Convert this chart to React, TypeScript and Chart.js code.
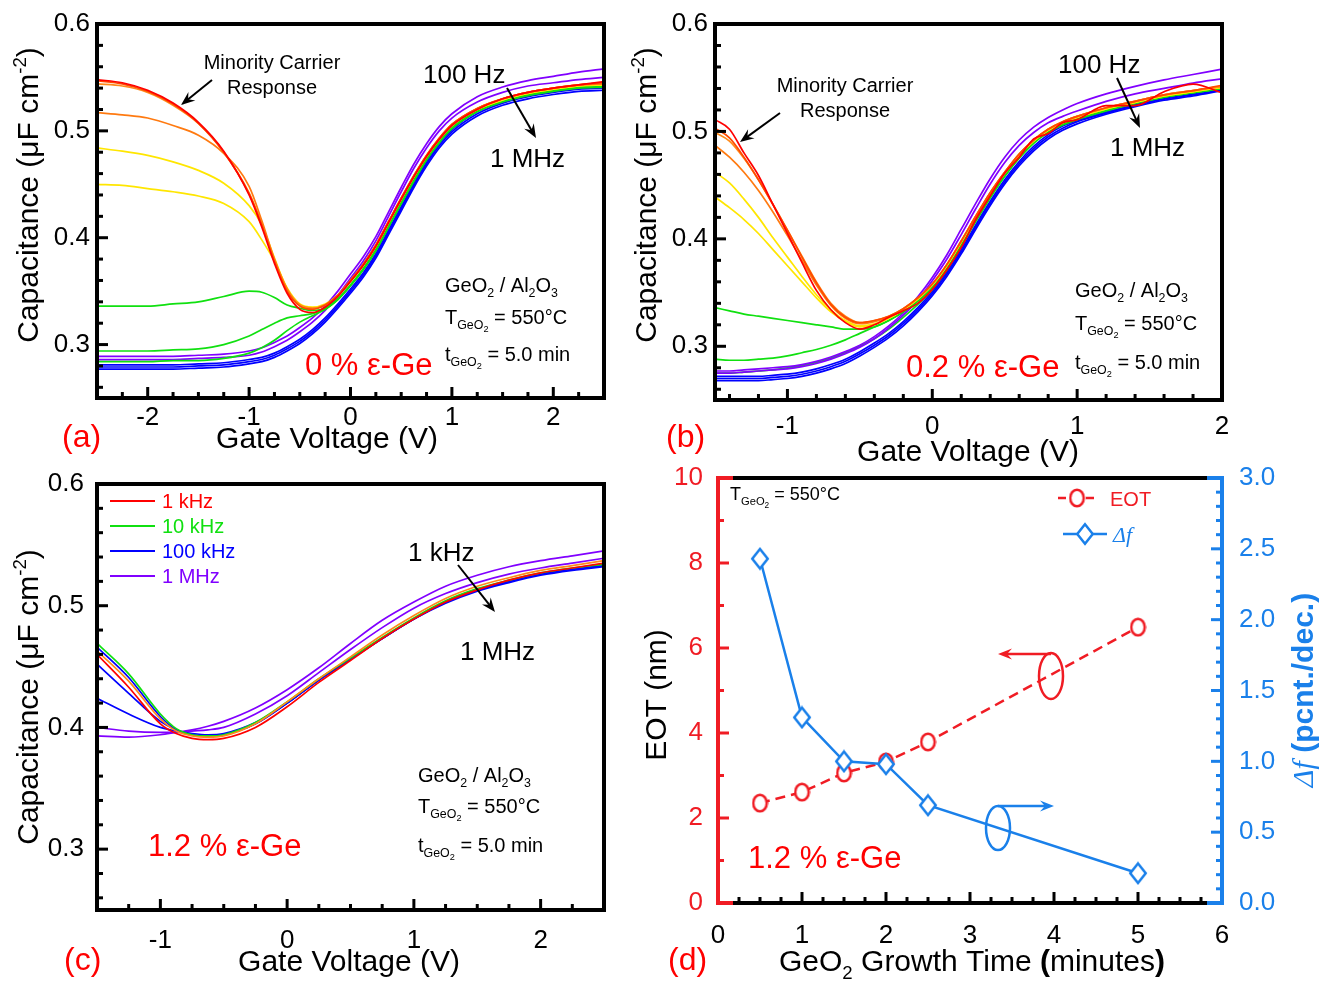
import React, { useEffect, useRef } from "react";
import { Chart, registerables } from "chart.js";

Chart.register(...registerables);

const PAGE_W = 1329;
const PAGE_H = 982;
const SANS = "Arial, 'Liberation Sans', Helvetica, sans-serif";
const SERIF = "'Times New Roman', 'Liberation Serif', serif";

// ================= DATA =================
// (a) 0 % eps-Ge : gate voltage (V) and capacitance (uF/cm2) for each frequency curve
const voltsA = [-2.5, -2.25, -2, -1.75, -1.5, -1.25, -1, -0.875, -0.75, -0.625, -0.5, -0.375, -0.25, -0.125, 0, 0.125, 0.25, 0.375, 0.5, 0.625, 0.75, 0.875, 1, 1.25, 1.5, 1.75, 2, 2.25, 2.5];
const capA01 = [0.548, 0.545, 0.538, 0.526, 0.508, 0.481, 0.440, 0.410, 0.376, 0.348, 0.333, 0.330, 0.335, 0.345, 0.359, 0.374, 0.392, 0.414, 0.436, 0.457, 0.476, 0.492, 0.505, 0.520, 0.530, 0.536, 0.540, 0.543, 0.546];
const capA02 = [0.547, 0.544, 0.537, 0.525, 0.507, 0.480, 0.441, 0.412, 0.378, 0.350, 0.336, 0.333, 0.337, 0.346, 0.360, 0.375, 0.393, 0.415, 0.437, 0.458, 0.477, 0.493, 0.506, 0.521, 0.530, 0.536, 0.540, 0.543, 0.545];
const capA03 = [0.544, 0.542, 0.536, 0.524, 0.507, 0.480, 0.442, 0.413, 0.379, 0.351, 0.337, 0.334, 0.337, 0.346, 0.360, 0.375, 0.393, 0.415, 0.437, 0.458, 0.477, 0.493, 0.506, 0.521, 0.530, 0.536, 0.540, 0.543, 0.545];
const capA04 = [0.517, 0.515, 0.512, 0.505, 0.496, 0.479, 0.448, 0.416, 0.380, 0.352, 0.337, 0.334, 0.337, 0.346, 0.360, 0.375, 0.393, 0.415, 0.437, 0.458, 0.477, 0.493, 0.506, 0.521, 0.530, 0.536, 0.540, 0.543, 0.544];
const capA05 = [0.484, 0.481, 0.477, 0.471, 0.463, 0.451, 0.430, 0.412, 0.381, 0.352, 0.337, 0.334, 0.337, 0.346, 0.359, 0.374, 0.392, 0.414, 0.436, 0.457, 0.476, 0.492, 0.505, 0.520, 0.529, 0.535, 0.539, 0.542, 0.544];
const capA06 = [0.450, 0.449, 0.446, 0.443, 0.439, 0.432, 0.415, 0.398, 0.378, 0.353, 0.338, 0.335, 0.338, 0.346, 0.359, 0.374, 0.392, 0.414, 0.436, 0.457, 0.476, 0.492, 0.505, 0.520, 0.529, 0.535, 0.539, 0.542, 0.543];
const capA07 = [0.336, 0.336, 0.336, 0.338, 0.340, 0.345, 0.350, 0.349, 0.344, 0.337, 0.334, 0.332, 0.334, 0.343, 0.356, 0.371, 0.389, 0.411, 0.433, 0.454, 0.474, 0.490, 0.503, 0.519, 0.528, 0.534, 0.538, 0.541, 0.543];
const capA08 = [0.294, 0.294, 0.294, 0.295, 0.296, 0.300, 0.308, 0.314, 0.320, 0.325, 0.327, 0.329, 0.333, 0.342, 0.355, 0.370, 0.388, 0.410, 0.432, 0.453, 0.473, 0.489, 0.502, 0.518, 0.528, 0.534, 0.538, 0.541, 0.542];
const capA09 = [0.284, 0.284, 0.284, 0.285, 0.285, 0.287, 0.292, 0.297, 0.304, 0.313, 0.321, 0.327, 0.333, 0.342, 0.355, 0.370, 0.388, 0.410, 0.432, 0.453, 0.473, 0.489, 0.502, 0.518, 0.527, 0.533, 0.537, 0.540, 0.541];
const capA10 = [0.289, 0.289, 0.289, 0.289, 0.290, 0.291, 0.294, 0.297, 0.302, 0.308, 0.316, 0.325, 0.336, 0.350, 0.366, 0.382, 0.401, 0.424, 0.447, 0.469, 0.488, 0.504, 0.516, 0.532, 0.541, 0.547, 0.551, 0.555, 0.558];
const capA11 = [0.286, 0.286, 0.286, 0.286, 0.287, 0.288, 0.290, 0.293, 0.298, 0.304, 0.312, 0.321, 0.332, 0.346, 0.362, 0.378, 0.397, 0.420, 0.443, 0.465, 0.484, 0.500, 0.512, 0.527, 0.536, 0.542, 0.545, 0.548, 0.550];
const capA12 = [0.281, 0.281, 0.281, 0.281, 0.282, 0.283, 0.286, 0.288, 0.292, 0.298, 0.305, 0.314, 0.325, 0.338, 0.352, 0.367, 0.385, 0.407, 0.429, 0.451, 0.471, 0.488, 0.501, 0.518, 0.528, 0.534, 0.537, 0.540, 0.542];
const capA13 = [0.279, 0.279, 0.279, 0.279, 0.280, 0.281, 0.284, 0.286, 0.290, 0.296, 0.303, 0.312, 0.323, 0.336, 0.350, 0.365, 0.383, 0.405, 0.427, 0.449, 0.469, 0.486, 0.499, 0.516, 0.526, 0.532, 0.536, 0.539, 0.540];
const capA14 = [0.277, 0.277, 0.277, 0.277, 0.278, 0.279, 0.282, 0.284, 0.288, 0.294, 0.301, 0.310, 0.321, 0.334, 0.348, 0.363, 0.381, 0.403, 0.425, 0.447, 0.467, 0.484, 0.497, 0.514, 0.524, 0.530, 0.534, 0.537, 0.538];
const curvesA = [capA01, capA02, capA03, capA04, capA05, capA06, capA07, capA08, capA09, capA10, capA11, capA12, capA13, capA14];
const colorsA = ["#ff0000", "#ff4a00", "#ff8a1a", "#ff7a10", "#ffe600", "#ffe600", "#10e010", "#10e010", "#10e010", "#8000ff", "#8000ff", "#0000ff", "#0000ff", "#0000ff"];

// (b) 0.2 % eps-Ge
const voltsB = [-1.5, -1.4, -1.3, -1.2, -1.1, -1.0, -0.9, -0.8, -0.7, -0.6, -0.5, -0.4, -0.3, -0.2, -0.1, 0, 0.1, 0.2, 0.3, 0.4, 0.5, 0.6, 0.7, 0.8, 0.9, 1.0, 1.2, 1.4, 1.6, 1.8, 2.0];
const capB01 = [0.511, 0.502, 0.480, 0.459, 0.432, 0.405, 0.378, 0.352, 0.334, 0.322, 0.316, 0.320, 0.327, 0.333, 0.340, 0.353, 0.371, 0.392, 0.418, 0.440, 0.461, 0.476, 0.493, 0.498, 0.508, 0.511, 0.524, 0.524, 0.537, 0.544, 0.536];
const capB02 = [0.503, 0.494, 0.476, 0.455, 0.432, 0.408, 0.383, 0.359, 0.339, 0.327, 0.322, 0.324, 0.328, 0.335, 0.345, 0.358, 0.376, 0.398, 0.421, 0.443, 0.462, 0.479, 0.492, 0.502, 0.509, 0.514, 0.522, 0.528, 0.534, 0.538, 0.543];
const capB03 = [0.499, 0.491, 0.475, 0.455, 0.432, 0.408, 0.384, 0.360, 0.340, 0.328, 0.322, 0.324, 0.328, 0.335, 0.345, 0.358, 0.376, 0.398, 0.421, 0.443, 0.462, 0.479, 0.492, 0.502, 0.509, 0.514, 0.522, 0.528, 0.534, 0.538, 0.542];
const capB04 = [0.487, 0.476, 0.462, 0.445, 0.425, 0.403, 0.380, 0.357, 0.338, 0.326, 0.321, 0.323, 0.327, 0.335, 0.345, 0.358, 0.376, 0.398, 0.421, 0.443, 0.462, 0.479, 0.492, 0.502, 0.509, 0.514, 0.522, 0.528, 0.534, 0.538, 0.542];
const capB05 = [0.462, 0.452, 0.437, 0.420, 0.401, 0.383, 0.365, 0.348, 0.334, 0.324, 0.319, 0.321, 0.326, 0.334, 0.344, 0.357, 0.375, 0.397, 0.420, 0.442, 0.461, 0.478, 0.491, 0.501, 0.508, 0.513, 0.521, 0.527, 0.533, 0.537, 0.541];
const capB06 = [0.439, 0.429, 0.418, 0.405, 0.390, 0.375, 0.360, 0.345, 0.332, 0.323, 0.318, 0.320, 0.326, 0.334, 0.344, 0.357, 0.375, 0.397, 0.420, 0.442, 0.461, 0.478, 0.491, 0.501, 0.508, 0.513, 0.521, 0.527, 0.533, 0.537, 0.541];
const capB07 = [0.336, 0.333, 0.330, 0.328, 0.326, 0.324, 0.322, 0.320, 0.318, 0.316, 0.316, 0.318, 0.324, 0.332, 0.342, 0.355, 0.373, 0.395, 0.418, 0.440, 0.459, 0.476, 0.490, 0.500, 0.507, 0.512, 0.520, 0.527, 0.532, 0.536, 0.540];
const capB08 = [0.288, 0.287, 0.287, 0.288, 0.289, 0.291, 0.294, 0.297, 0.301, 0.306, 0.312, 0.318, 0.324, 0.332, 0.342, 0.355, 0.373, 0.395, 0.418, 0.440, 0.459, 0.476, 0.490, 0.500, 0.507, 0.512, 0.520, 0.526, 0.532, 0.536, 0.540];
const capB09 = [0.277, 0.277, 0.278, 0.279, 0.280, 0.281, 0.283, 0.286, 0.290, 0.295, 0.301, 0.309, 0.319, 0.331, 0.346, 0.364, 0.385, 0.409, 0.433, 0.456, 0.476, 0.492, 0.504, 0.513, 0.520, 0.526, 0.535, 0.542, 0.548, 0.553, 0.558];
const capB10 = [0.275, 0.275, 0.276, 0.277, 0.278, 0.279, 0.281, 0.284, 0.288, 0.293, 0.299, 0.307, 0.317, 0.329, 0.343, 0.361, 0.381, 0.404, 0.428, 0.451, 0.471, 0.487, 0.499, 0.508, 0.514, 0.519, 0.528, 0.535, 0.540, 0.545, 0.549];
const capB11 = [0.275, 0.275, 0.276, 0.277, 0.278, 0.280, 0.282, 0.285, 0.289, 0.294, 0.300, 0.307, 0.316, 0.327, 0.339, 0.353, 0.371, 0.393, 0.416, 0.438, 0.458, 0.475, 0.489, 0.499, 0.506, 0.511, 0.519, 0.526, 0.532, 0.536, 0.540];
const capB12 = [0.272, 0.272, 0.272, 0.272, 0.273, 0.274, 0.276, 0.279, 0.283, 0.288, 0.295, 0.303, 0.312, 0.323, 0.336, 0.351, 0.369, 0.390, 0.413, 0.435, 0.455, 0.472, 0.486, 0.497, 0.505, 0.510, 0.518, 0.525, 0.531, 0.535, 0.540];
const capB13 = [0.270, 0.270, 0.270, 0.270, 0.271, 0.272, 0.274, 0.277, 0.281, 0.286, 0.293, 0.301, 0.310, 0.321, 0.334, 0.349, 0.367, 0.388, 0.411, 0.433, 0.453, 0.470, 0.484, 0.495, 0.503, 0.509, 0.517, 0.524, 0.530, 0.534, 0.539];
const capB14 = [0.268, 0.268, 0.268, 0.268, 0.269, 0.270, 0.272, 0.275, 0.279, 0.284, 0.291, 0.299, 0.308, 0.319, 0.332, 0.347, 0.365, 0.386, 0.409, 0.431, 0.451, 0.468, 0.482, 0.493, 0.501, 0.507, 0.516, 0.523, 0.529, 0.533, 0.538];
const curvesB = [capB01, capB02, capB03, capB04, capB05, capB06, capB07, capB08, capB09, capB10, capB11, capB12, capB13, capB14];
const colorsB = ["#ff0000", "#ff4a00", "#ff8a1a", "#ff7a10", "#ffe600", "#ffe600", "#10e010", "#10e010", "#8000ff", "#8000ff", "#10e010", "#0000ff", "#0000ff", "#0000ff"];

// (c) 1.2 % eps-Ge
const voltsC = [-1.5, -1.25, -1, -0.875, -0.75, -0.625, -0.5, -0.25, 0, 0.25, 0.5, 0.75, 1, 1.25, 1.5, 1.75, 2, 2.25, 2.5];
const capC1kHz = [0.460, 0.433, 0.403, 0.395, 0.391, 0.390, 0.391, 0.400, 0.417, 0.437, 0.455, 0.473, 0.489, 0.503, 0.513, 0.521, 0.527, 0.531, 0.535];
const capCorange = [0.463, 0.438, 0.407, 0.397, 0.393, 0.392, 0.393, 0.403, 0.421, 0.440, 0.458, 0.476, 0.492, 0.506, 0.516, 0.523, 0.529, 0.533, 0.537];
const capC10kHz = [0.469, 0.444, 0.411, 0.399, 0.394, 0.393, 0.394, 0.404, 0.421, 0.440, 0.457, 0.474, 0.490, 0.504, 0.514, 0.521, 0.527, 0.531, 0.534];
const capCblue1 = [0.466, 0.441, 0.409, 0.398, 0.394, 0.393, 0.394, 0.403, 0.420, 0.439, 0.456, 0.473, 0.489, 0.503, 0.513, 0.520, 0.526, 0.530, 0.533];
const capCblue2 = [0.452, 0.428, 0.405, 0.398, 0.394, 0.393, 0.394, 0.403, 0.420, 0.439, 0.456, 0.473, 0.489, 0.503, 0.513, 0.520, 0.526, 0.530, 0.533];
const capC100kHz = [0.424, 0.411, 0.400, 0.397, 0.395, 0.394, 0.395, 0.404, 0.420, 0.439, 0.456, 0.473, 0.489, 0.502, 0.512, 0.519, 0.525, 0.529, 0.532];
const capCpurple = [0.400, 0.397, 0.396, 0.396, 0.397, 0.398, 0.400, 0.411, 0.426, 0.445, 0.464, 0.482, 0.498, 0.510, 0.519, 0.526, 0.531, 0.535, 0.539];
const capC1MHz = [0.393, 0.392, 0.394, 0.396, 0.398, 0.401, 0.405, 0.416, 0.431, 0.449, 0.469, 0.488, 0.503, 0.516, 0.525, 0.532, 0.537, 0.541, 0.545];
const curvesC = [capC1kHz, capCorange, capC10kHz, capCblue1, capCblue2, capC100kHz, capCpurple, capC1MHz];
const colorsC = ["#ff0000", "#ff8a1a", "#10e010", "#0000ff", "#0000ff", "#0000ff", "#8000ff", "#8000ff"];
const legendLabelsC = ["1 kHz", "10 kHz", "100 kHz", "1 MHz"];
const legendColorsC = ["#ff0000", "#10e010", "#0000ff", "#8000ff"];

// (d) EOT and delta-f vs GeO2 growth time
const growthTime = [0.5, 1, 1.5, 2, 2.5, 5];
const eotNm = [2.35, 2.61, 3.06, 3.32, 3.79, 6.49];
const deltaF = [2.43, 1.31, 1.0, 0.98, 0.69, 0.21];

// tick labels
const yTicksCV = [0.3, 0.4, 0.5, 0.6];
const xTicksA = [-2, -1, 0, 1, 2];
const xTicksB = [-1, 0, 1, 2];
const xTicksC = [-1, 0, 1, 2];
const xTicksD = [0, 1, 2, 3, 4, 5, 6];
const yTicksEOT = [0, 2, 4, 6, 8, 10];
const yTicksDF = [0, 0.5, 1.0, 1.5, 2.0, 2.5, 3.0];

// ================= STYLE HELPERS =================
const RED_D = "#f01c24";
const BLUE_D = "#1a80ea";

type Run = { t: string; sub?: number; sup?: boolean; bold?: boolean; italic?: boolean; serif?: boolean; color?: string };
type TextSpec = { x: number; y: number; size: number; color?: string; runs: Run[]; align?: "left" | "center" | "right"; rotate?: boolean };
type ArrowSpec = { x1: number; y1: number; x2: number; y2: number; color: string; width: number };
type EllSpec = { cx: number; cy: number; rx: number; ry: number; color: string; width: number };
type TickSpec = { axis: string; side: "left" | "right" | "bottom"; major: number[]; minor: number[]; color: string };
type Deco = {
  ticks: TickSpec[];
  frame: (ctx: CanvasRenderingContext2D, a: any) => void;
  texts: TextSpec[];
  arrows: ArrowSpec[];
  ellipses?: EllSpec[];
  extra?: (ctx: CanvasRenderingContext2D) => void;
};

function steps(a: number, b: number, step: number, skipEvery: number): number[] {
  const out: number[] = [];
  const n = Math.round((b - a) / step);
  for (let i = 0; i <= n; i++) {
    const v = +(a + i * step).toFixed(6);
    const r = v / skipEvery;
    if (Math.abs(r - Math.round(r)) < 1e-6) continue;
    out.push(v);
  }
  return out;
}

function drawRuns(ctx: CanvasRenderingContext2D, s: TextSpec) {
  ctx.save();
  ctx.translate(s.x, s.y);
  if (s.rotate) ctx.rotate(-Math.PI / 2);
  const parts = s.runs.map((r) => {
    const lvl = r.sub || 0;
    const fs = r.sup ? s.size * 0.62 : lvl === 1 ? s.size * 0.62 : lvl === 2 ? s.size * 0.46 : s.size;
    const font = `${r.italic ? "italic " : ""}${r.bold ? "bold " : ""}${fs.toFixed(1)}px ${r.serif ? SERIF : SANS}`;
    ctx.font = font;
    const w = ctx.measureText(r.t).width;
    const dy = r.sup ? -s.size * 0.4 : lvl === 1 ? s.size * 0.26 : lvl === 2 ? s.size * 0.42 : 0;
    return { font, w, dy, t: r.t, color: r.color };
  });
  const total = parts.reduce((acc, p) => acc + p.w, 0);
  let cx = s.align === "center" ? -total / 2 : s.align === "right" ? -total : 0;
  ctx.textAlign = "left";
  ctx.textBaseline = "alphabetic";
  for (const p of parts) {
    ctx.font = p.font;
    ctx.fillStyle = p.color || s.color || "#000";
    ctx.fillText(p.t, cx, p.dy);
    cx += p.w;
  }
  ctx.restore();
}

function drawArrow(ctx: CanvasRenderingContext2D, a: ArrowSpec) {
  const ang = Math.atan2(a.y2 - a.y1, a.x2 - a.x1);
  const hl = 14;
  const hw = 5.5;
  ctx.save();
  ctx.strokeStyle = a.color;
  ctx.fillStyle = a.color;
  ctx.lineWidth = a.width;
  ctx.beginPath();
  ctx.moveTo(a.x1, a.y1);
  ctx.lineTo(a.x2 - Math.cos(ang) * hl * 0.6, a.y2 - Math.sin(ang) * hl * 0.6);
  ctx.stroke();
  ctx.translate(a.x2, a.y2);
  ctx.rotate(ang);
  ctx.beginPath();
  ctx.moveTo(0, 0);
  ctx.lineTo(-hl, -hw);
  ctx.lineTo(-hl * 0.65, 0);
  ctx.lineTo(-hl, hw);
  ctx.closePath();
  ctx.fill();
  ctx.restore();
}

function makePlugin(deco: Deco) {
  return {
    id: "deco",
    afterDatasetsDraw(chart: any) {
      const ctx: CanvasRenderingContext2D = chart.ctx;
      const a = chart.chartArea;
      ctx.save();
      for (const t of deco.ticks) {
        const sc = chart.scales[t.axis];
        ctx.strokeStyle = t.color;
        ctx.lineWidth = 3;
        const draw = (v: number, len: number) => {
          const p = sc.getPixelForValue(v);
          ctx.beginPath();
          if (t.side === "bottom") {
            ctx.moveTo(p, a.bottom);
            ctx.lineTo(p, a.bottom - len);
          } else if (t.side === "left") {
            ctx.moveTo(a.left, p);
            ctx.lineTo(a.left + len, p);
          } else {
            ctx.moveTo(a.right, p);
            ctx.lineTo(a.right - len, p);
          }
          ctx.stroke();
        };
        t.major.forEach((v) => draw(v, 11));
        t.minor.forEach((v) => draw(v, 6));
      }
      deco.frame(ctx, a);
      (deco.ellipses || []).forEach((e) => {
        ctx.beginPath();
        ctx.strokeStyle = e.color;
        ctx.lineWidth = e.width;
        ctx.ellipse(e.cx, e.cy, e.rx, e.ry, 0, 0, Math.PI * 2);
        ctx.stroke();
      });
      deco.arrows.forEach((ar) => drawArrow(ctx, ar));
      deco.texts.forEach((tx) => drawRuns(ctx, tx));
      if (deco.extra) deco.extra(ctx);
      ctx.restore();
    },
  };
}

function blackFrame(ctx: CanvasRenderingContext2D, a: any) {
  ctx.strokeStyle = "#000";
  ctx.lineWidth = 4;
  ctx.strokeRect(a.left, a.top, a.right - a.left, a.bottom - a.top);
}

function tickFont() {
  return { family: SANS, size: 26 };
}

function xScale(min: number, max: number, ticks: number[], pad: number) {
  return {
    type: "linear",
    min,
    max,
    afterBuildTicks: (s: any) => {
      s.ticks = ticks.map((v) => ({ value: v }));
    },
    afterFit: (s: any) => {
      s.height = 50;
      s.paddingLeft = 0;
      s.paddingRight = 0;
    },
    grid: { display: false, drawTicks: false },
    border: { display: false },
    ticks: { font: tickFont(), color: "#000", padding: pad, maxRotation: 0, minRotation: 0, autoSkip: false, callback: (v: any) => String(v) },
  };
}

function yScale(min: number, max: number, ticks: number[], pad: number, digits: number, color: string, position: string) {
  return {
    type: "linear",
    position,
    min,
    max,
    afterBuildTicks: (s: any) => {
      s.ticks = ticks.map((v) => ({ value: v }));
    },
    afterFit: (s: any) => {
      s.width = 70;
      s.paddingTop = 0;
      s.paddingBottom = 0;
    },
    grid: { display: false, drawTicks: false },
    border: { display: false },
    ticks: { font: tickFont(), color, padding: pad, autoSkip: false, callback: (v: any) => Number(v).toFixed(digits) },
  };
}

function lineSets(volts: number[], curves: number[][], colors: string[]) {
  return curves.map((c, k) => ({
    data: volts.map((v, i) => ({ x: v, y: c[i] })),
    borderColor: colors[k],
    borderWidth: 1.7,
    pointRadius: 0,
    fill: false,
    cubicInterpolationMode: "monotone",
  }));
}

function baseOptions(padding: any, scales: any) {
  return {
    responsive: false,
    animation: false,
    devicePixelRatio: 1,
    events: [],
    layout: { padding },
    plugins: { legend: { display: false }, tooltip: { enabled: false } },
    scales,
  };
}

function commonCVTexts(x: number, yBase: number, spacing: [number, number]): TextSpec[] {
  return [
    { x, y: yBase, size: 20, runs: [{ t: "GeO" }, { t: "2", sub: 1 }, { t: " / Al" }, { t: "2", sub: 1 }, { t: "O" }, { t: "3", sub: 1 }] },
    { x, y: yBase + spacing[0], size: 20, runs: [{ t: "T" }, { t: "GeO", sub: 1 }, { t: "2", sub: 2 }, { t: " = 550°C" }] },
    { x, y: yBase + spacing[1], size: 20, runs: [{ t: "t" }, { t: "GeO", sub: 1 }, { t: "2", sub: 2 }, { t: " = 5.0 min" }] },
  ];
}

const capTitle: Run[] = [{ t: "Capacitance (" }, { t: "μ" }, { t: "F cm" }, { t: "-2", sup: true }, { t: ")" }];

function ellipseMarker(w: number, h: number, color: string, lw: number) {
  const c = document.createElement("canvas");
  c.width = w;
  c.height = h;
  const g = c.getContext("2d")!;
  g.beginPath();
  g.ellipse(w / 2, h / 2, w / 2 - lw / 2 - 0.5, h / 2 - lw / 2 - 0.5, 0, 0, Math.PI * 2);
  g.fillStyle = "#fff";
  g.fill();
  g.strokeStyle = color;
  g.lineWidth = lw;
  g.stroke();
  return c;
}

function diamondMarker(w: number, h: number, color: string, lw: number) {
  const c = document.createElement("canvas");
  c.width = w;
  c.height = h;
  const g = c.getContext("2d")!;
  const m = lw / 2 + 1;
  g.beginPath();
  g.moveTo(w / 2, m);
  g.lineTo(w - m, h / 2);
  g.lineTo(w / 2, h - m);
  g.lineTo(m, h / 2);
  g.closePath();
  g.fillStyle = "#fff";
  g.fill();
  g.strokeStyle = color;
  g.lineWidth = lw;
  g.lineJoin = "miter";
  g.stroke();
  return c;
}

// ================= CHART BUILDERS =================
function buildA(canvas: HTMLCanvasElement) {
  const deco: Deco = {
    ticks: [
      { axis: "x", side: "bottom", major: [-2, -1, 0, 1, 2], minor: steps(-2.25, 2.25, 0.25, 1), color: "#000" },
      { axis: "y", side: "left", major: [0.3, 0.4, 0.5], minor: steps(0.26, 0.58, 0.02, 0.1), color: "#000" },
    ],
    frame: blackFrame,
    arrows: [
      { x1: 212, y1: 80, x2: 181, y2: 105, color: "#000", width: 2 },
      { x1: 507, y1: 88, x2: 536, y2: 138, color: "#000", width: 2 },
    ],
    texts: [
      { x: 272, y: 69, size: 20, align: "center", runs: [{ t: "Minority Carrier" }] },
      { x: 272, y: 94, size: 20, align: "center", runs: [{ t: "Response" }] },
      { x: 423, y: 83, size: 26, runs: [{ t: "100 Hz" }] },
      { x: 490, y: 167, size: 26, runs: [{ t: "1 MHz" }] },
      ...commonCVTexts(445, 292, [32, 69]),
      { x: 305, y: 375, size: 31, color: "#ff0000", runs: [{ t: "0 % ε-Ge" }] },
      { x: 327, y: 448, size: 30, align: "center", runs: [{ t: "Gate Voltage (V)" }] },
      { x: 38, y: 195, size: 30, align: "center", rotate: true, runs: capTitle },
      { x: 62, y: 447, size: 32, color: "#ff0000", runs: [{ t: "(a)" }] },
    ],
  };
  return new Chart(canvas, {
    type: "line",
    data: { datasets: lineSets(voltsA, curvesA, colorsA) as any },
    options: baseOptions({ left: 27, top: 24, right: 725, bottom: 534 }, {
      x: xScale(-2.5, 2.5, xTicksA, 4),
      y: yScale(0.25, 0.6, yTicksCV, 7, 1, "#000", "left"),
    }) as any,
    plugins: [makePlugin(deco)],
  });
}

function buildB(canvas: HTMLCanvasElement) {
  const deco: Deco = {
    ticks: [
      { axis: "x", side: "bottom", major: [-1, 0, 1], minor: steps(-1.4, 1.8, 0.2, 1), color: "#000" },
      { axis: "y", side: "left", major: [0.3, 0.4, 0.5], minor: steps(0.26, 0.58, 0.02, 0.1), color: "#000" },
    ],
    frame: blackFrame,
    arrows: [
      { x1: 780, y1: 113, x2: 740, y2: 142, color: "#000", width: 2 },
      { x1: 1117, y1: 78, x2: 1140, y2: 128, color: "#000", width: 2 },
    ],
    texts: [
      { x: 845, y: 92, size: 20, align: "center", runs: [{ t: "Minority Carrier" }] },
      { x: 845, y: 117, size: 20, align: "center", runs: [{ t: "Response" }] },
      { x: 1058, y: 73, size: 26, runs: [{ t: "100 Hz" }] },
      { x: 1110, y: 156, size: 26, runs: [{ t: "1 MHz" }] },
      ...commonCVTexts(1075, 297, [33, 72]),
      { x: 906, y: 377, size: 31, color: "#ff0000", runs: [{ t: "0.2 % ε-Ge" }] },
      { x: 968, y: 461, size: 30, align: "center", runs: [{ t: "Gate Voltage (V)" }] },
      { x: 656, y: 195, size: 30, align: "center", rotate: true, runs: capTitle },
      { x: 666, y: 447, size: 32, color: "#ff0000", runs: [{ t: "(b)" }] },
    ],
  };
  return new Chart(canvas, {
    type: "line",
    data: { datasets: lineSets(voltsB, curvesB, colorsB) as any },
    options: baseOptions({ left: 645, top: 24, right: 107, bottom: 532 }, {
      x: xScale(-1.5, 2.0, xTicksB, 11),
      y: yScale(0.25, 0.6, yTicksCV, 7, 1, "#000", "left"),
    }) as any,
    plugins: [makePlugin(deco)],
  });
}

function buildC(canvas: HTMLCanvasElement) {
  const legendY = [501, 526, 551, 576];
  const deco: Deco = {
    ticks: [
      { axis: "x", side: "bottom", major: [-1, 0, 1, 2], minor: steps(-1.25, 2.25, 0.25, 1), color: "#000" },
      { axis: "y", side: "left", major: [0.3, 0.4, 0.5], minor: steps(0.26, 0.58, 0.02, 0.1), color: "#000" },
    ],
    frame: blackFrame,
    arrows: [{ x1: 458, y1: 565, x2: 495, y2: 612, color: "#000", width: 2 }],
    texts: [
      ...legendLabelsC.map((l, i) => ({ x: 162, y: legendY[i] + 7, size: 20, color: legendColorsC[i], runs: [{ t: l }] } as TextSpec)),
      { x: 408, y: 561, size: 26, runs: [{ t: "1 kHz" }] },
      { x: 460, y: 660, size: 26, runs: [{ t: "1 MHz" }] },
      ...commonCVTexts(418, 782, [31, 70]),
      { x: 148, y: 856, size: 31, color: "#ff0000", runs: [{ t: "1.2 % ε-Ge" }] },
      { x: 349, y: 971, size: 30, align: "center", runs: [{ t: "Gate Voltage (V)" }] },
      { x: 38, y: 697, size: 30, align: "center", rotate: true, runs: capTitle },
      { x: 64, y: 970, size: 32, color: "#ff0000", runs: [{ t: "(c)" }] },
    ],
    extra: (ctx) => {
      legendColorsC.forEach((c, i) => {
        ctx.beginPath();
        ctx.strokeStyle = c;
        ctx.lineWidth = 2;
        ctx.moveTo(110, legendY[i]);
        ctx.lineTo(155, legendY[i]);
        ctx.stroke();
      });
    },
  };
  return new Chart(canvas, {
    type: "line",
    data: { datasets: lineSets(voltsC, curvesC, colorsC) as any },
    options: baseOptions({ left: 27, top: 484, right: 725, bottom: 22 }, {
      x: xScale(-1.5, 2.5, xTicksC, 15),
      y: yScale(0.25, 0.6, yTicksCV, 13, 1, "#000", "left"),
    }) as any,
    plugins: [makePlugin(deco)],
  });
}

function buildD(canvas: HTMLCanvasElement) {
  const circ = ellipseMarker(17, 20, RED_D, 2.5);
  const diam = diamondMarker(20, 24, BLUE_D, 2.5);
  const frameD = (ctx: CanvasRenderingContext2D, a: any) => {
    ctx.lineWidth = 4;
    const seg = (x1: number, y1: number, x2: number, y2: number, c: string) => {
      ctx.beginPath();
      ctx.strokeStyle = c;
      ctx.moveTo(x1, y1);
      ctx.lineTo(x2, y2);
      ctx.stroke();
    };
    seg(a.left, a.top, a.right, a.top, "#000");
    seg(a.left, a.bottom, a.right, a.bottom, "#000");
    seg(a.left - 2, a.top, a.left + 15, a.top, RED_D);
    seg(a.left - 2, a.bottom, a.left + 15, a.bottom, RED_D);
    seg(a.right - 15, a.top, a.right + 2, a.top, BLUE_D);
    seg(a.right - 15, a.bottom, a.right + 2, a.bottom, BLUE_D);
    seg(a.left, a.top - 2, a.left, a.bottom + 2, RED_D);
    seg(a.right, a.top - 2, a.right, a.bottom + 2, BLUE_D);
  };
  const deco: Deco = {
    ticks: [
      { axis: "x", side: "bottom", major: [1, 2, 3, 4, 5], minor: steps(0.25, 5.75, 0.25, 1), color: "#000" },
      { axis: "y", side: "left", major: [2, 4, 6, 8], minor: [1, 3, 5, 7, 9], color: RED_D },
      { axis: "y2", side: "right", major: [0.5, 1.0, 1.5, 2.0, 2.5], minor: steps(0.1, 2.9, 0.1, 0.5), color: BLUE_D },
    ],
    frame: frameD,
    ellipses: [
      { cx: 1051, cy: 676, rx: 12, ry: 23, color: RED_D, width: 2.5 },
      { cx: 998, cy: 828, rx: 12, ry: 22, color: BLUE_D, width: 2.5 },
    ],
    arrows: [
      { x1: 1051, y1: 654, x2: 998, y2: 654, color: RED_D, width: 2.5 },
      { x1: 998, y1: 806, x2: 1054, y2: 806, color: BLUE_D, width: 2.5 },
    ],
    texts: [
      { x: 730, y: 500, size: 18, runs: [{ t: "T" }, { t: "GeO", sub: 1 }, { t: "2", sub: 2 }, { t: " = 550°C" }] },
      { x: 1110, y: 506, size: 20, color: RED_D, runs: [{ t: "EOT" }] },
      { x: 1113, y: 542, size: 22, color: BLUE_D, runs: [{ t: "Δf", italic: true, serif: true }] },
      { x: 748, y: 868, size: 31, color: "#ff0000", runs: [{ t: "1.2 % ε-Ge" }] },
      { x: 972, y: 971, size: 30, align: "center", runs: [{ t: "GeO" }, { t: "2", sub: 1 }, { t: " Growth Time " }, { t: "(", bold: true }, { t: "minutes" }, { t: ")", bold: true }] },
      { x: 666, y: 695, size: 30, align: "center", rotate: true, runs: [{ t: "EOT (nm)" }] },
      { x: 1313, y: 690, size: 30, align: "center", rotate: true, color: BLUE_D, runs: [{ t: "Δf", italic: true, serif: true }, { t: " (pcnt./dec.)", bold: true }] },
      { x: 668, y: 970, size: 32, color: "#ff0000", runs: [{ t: "(d)" }] },
    ],
    extra: (ctx) => {
      ctx.save();
      ctx.strokeStyle = RED_D;
      ctx.lineWidth = 2.5;
      ctx.setLineDash([8, 6]);
      ctx.beginPath();
      ctx.moveTo(1058, 498);
      ctx.lineTo(1096, 498);
      ctx.stroke();
      ctx.setLineDash([]);
      ctx.drawImage(circ, 1077 - circ.width / 2, 498 - circ.height / 2);
      ctx.strokeStyle = BLUE_D;
      ctx.beginPath();
      ctx.moveTo(1063, 534);
      ctx.lineTo(1107, 534);
      ctx.stroke();
      ctx.drawImage(diam, 1085 - diam.width / 2, 534 - diam.height / 2);
      ctx.restore();
    },
  };
  return new Chart(canvas, {
    type: "line",
    data: {
      datasets: [
        {
          data: growthTime.map((t, i) => ({ x: t, y: deltaF[i] })),
          yAxisID: "y2",
          borderColor: BLUE_D,
          borderWidth: 2.5,
          pointStyle: diam as any,
          pointRadius: 10,
          tension: 0,
        },
        {
          data: growthTime.map((t, i) => ({ x: t, y: eotNm[i] })),
          yAxisID: "y",
          borderColor: RED_D,
          borderWidth: 2.5,
          borderDash: [10, 6],
          pointStyle: circ as any,
          pointRadius: 9,
          tension: 0,
        },
      ] as any,
    },
    options: baseOptions({ left: 648, top: 478, right: 37, bottom: 29 }, {
      x: xScale(0, 6, xTicksD, 17),
      y: yScale(0, 10, yTicksEOT, 15, 0, RED_D, "left"),
      y2: yScale(0, 3, yTicksDF, 17, 1, BLUE_D, "right"),
    }) as any,
    plugins: [makePlugin(deco)],
  });
}

export default function App() {
  const r0 = useRef<HTMLCanvasElement>(null);
  const r1 = useRef<HTMLCanvasElement>(null);
  const r2 = useRef<HTMLCanvasElement>(null);
  const r3 = useRef<HTMLCanvasElement>(null);
  useEffect(() => {
    const charts = [buildA(r0.current!), buildB(r1.current!), buildC(r2.current!), buildD(r3.current!)];
    return () => charts.forEach((c) => c.destroy());
  }, []);
  const cs: React.CSSProperties = { position: "absolute", left: 0, top: 0, width: PAGE_W, height: PAGE_H };
  return (
    <div style={{ position: "fixed", left: 0, top: 0, width: PAGE_W, height: PAGE_H, background: "#fff", overflow: "hidden" }}>
      <canvas ref={r0} width={PAGE_W} height={PAGE_H} style={cs} />
      <canvas ref={r1} width={PAGE_W} height={PAGE_H} style={cs} />
      <canvas ref={r2} width={PAGE_W} height={PAGE_H} style={cs} />
      <canvas ref={r3} width={PAGE_W} height={PAGE_H} style={cs} />
    </div>
  );
}
